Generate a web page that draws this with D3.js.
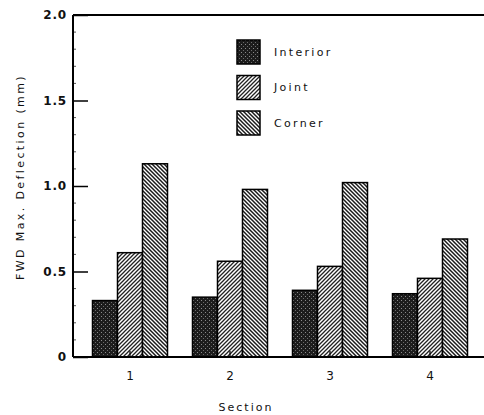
<!DOCTYPE html>
<html><head><meta charset="utf-8">
<script src="https://cdn.jsdelivr.net/npm/d3@7"></script>
<style>
html,body{margin:0;padding:0;background:#fff;}
svg{display:block;}
text{font-family:"DejaVu Sans",sans-serif;fill:#111;}
</style></head>
<body>
<script>
const sections = ["1","2","3","4"];
const seriesNames = ["Interior","Joint","Corner"];
const interior = [0.33, 0.35, 0.39, 0.37];
const joint = [0.61, 0.56, 0.53, 0.46];
const corner = [1.13, 0.98, 1.02, 0.69];
const yTicks = [0, 0.5, 1.0, 1.5, 2.0];
const yTickLabels = ["0", "0.5", "1.0", "1.5", "2.0"];
const xTitle = "Section";
const yTitle = "FWD Max. Deflection (mm)";

(function(){
const W = 484, H = 415;
const mLeft = 73, mRight = 484, mTop = 15, mBottom = 357;
const seriesValues = [interior, joint, corner];

const svg = d3.select("body").append("svg").attr("width", W).attr("height", H);
const defs = svg.append("defs");

const pI = defs.append("pattern").attr("id","pInterior").attr("patternUnits","userSpaceOnUse").attr("width",4).attr("height",4);
pI.append("rect").attr("width",4).attr("height",4).attr("fill","#1c1c1c");
pI.append("rect").attr("x",1).attr("y",0).attr("width",1).attr("height",1).attr("fill","#8a8a8a");
pI.append("rect").attr("x",3).attr("y",2).attr("width",1).attr("height",1).attr("fill","#6a6a6a");

const pJ = defs.append("pattern").attr("id","pJoint").attr("patternUnits","userSpaceOnUse").attr("width",4).attr("height",4);
pJ.append("rect").attr("width",4).attr("height",4).attr("fill","#fff");
pJ.append("path").attr("d","M-1,1 L1,-1 M0,4 L4,0 M3,5 L5,3").attr("stroke","#222").attr("stroke-width",1.3);

const pC = defs.append("pattern").attr("id","pCorner").attr("patternUnits","userSpaceOnUse").attr("width",4).attr("height",4);
pC.append("rect").attr("width",4).attr("height",4).attr("fill","#fff");
pC.append("path").attr("d","M-1,3 L1,5 M0,0 L4,4 M3,-1 L5,1").attr("stroke","#1a1a1a").attr("stroke-width",1.5);

const fills = ["url(#pInterior)","url(#pJoint)","url(#pCorner)"];

const x0 = d3.scaleBand().domain(sections).range([80, 480]).paddingInner(0.25).paddingOuter(0.125);
const x1 = d3.scaleBand().domain(seriesNames).range([0, x0.bandwidth()]);
const y = d3.scaleLinear().domain([0, 2]).range([mBottom, mTop]);

sections.forEach((s, i) => {
  seriesNames.forEach((n, j) => {
    svg.append("rect")
      .attr("x", x0(s) + x1(n))
      .attr("y", y(seriesValues[j][i]))
      .attr("width", x1.bandwidth())
      .attr("height", y(0) - y(seriesValues[j][i]))
      .attr("fill", fills[j])
      .attr("stroke", "#000")
      .attr("stroke-width", 1.5);
  });
});

const yAxis = d3.axisRight(y).tickValues(yTicks).tickSize(15).tickFormat(() => "");
const gy = svg.append("g").attr("transform", `translate(${mLeft},0)`).call(yAxis);
gy.select(".domain").remove();
gy.selectAll(".tick line").attr("stroke","#000").attr("stroke-width",1.5);
const minor = d3.range(1, 20).filter(v => v % 5 !== 0).map(v => v / 10);
svg.append("g").selectAll("line").data(minor).join("line")
  .attr("x1", mLeft).attr("x2", mLeft + 3).attr("y1", d => y(d)).attr("y2", d => y(d))
  .attr("stroke", "#555").attr("stroke-width", 1);

svg.append("g").selectAll("text").data(yTicks).join("text")
  .attr("x", mLeft - 6).attr("y", d => y(d)).attr("dy", "0.35em")
  .attr("text-anchor", "end").style("font-size", "12px").style("letter-spacing","0.8px")
  .style("font-weight","bold")
  .text((d, i) => yTickLabels[i]);

svg.append("line").attr("x1", mLeft).attr("x2", mLeft).attr("y1", mTop).attr("y2", mBottom).attr("stroke","#000").attr("stroke-width",2);
svg.append("line").attr("x1", mLeft).attr("x2", mRight).attr("y1", mTop).attr("y2", mTop).attr("stroke","#000").attr("stroke-width",2);
svg.append("line").attr("x1", mLeft).attr("x2", mRight).attr("y1", mBottom).attr("y2", mBottom).attr("stroke","#000").attr("stroke-width",2);

const xc = s => x0(s) + x0.bandwidth() / 2;
svg.append("g").selectAll("line").data(sections).join("line")
  .attr("x1", xc).attr("x2", xc).attr("y1", mBottom).attr("y2", mBottom - 6)
  .attr("stroke", "#000").attr("stroke-width", 1.2);
svg.append("g").selectAll("text").data(sections).join("text")
  .attr("x", xc).attr("y", mBottom + 23).attr("text-anchor", "middle")
  .style("font-size", "12px").text(d => d);

svg.append("text").attr("x", 246).attr("y", 411).attr("text-anchor","middle")
  .style("font-size","11px").style("letter-spacing","2px").text(xTitle);
svg.append("text").attr("transform","translate(24,177) rotate(-90)").attr("text-anchor","middle")
  .style("font-size","11px").style("letter-spacing","2.4px").text(yTitle);

const lg = svg.append("g");
seriesNames.forEach((n, j) => {
  const ly = 40 + j * 35.5;
  lg.append("rect").attr("x", 237).attr("y", ly).attr("width", 23).attr("height", 24)
    .attr("fill", fills[j]).attr("stroke","#000").attr("stroke-width",1.5);
  lg.append("text").attr("x", 274).attr("y", ly + 12).attr("dy","0.35em")
    .style("font-size","11px").style("letter-spacing","2.3px").text(n);
});
})();
</script>
</body></html>
